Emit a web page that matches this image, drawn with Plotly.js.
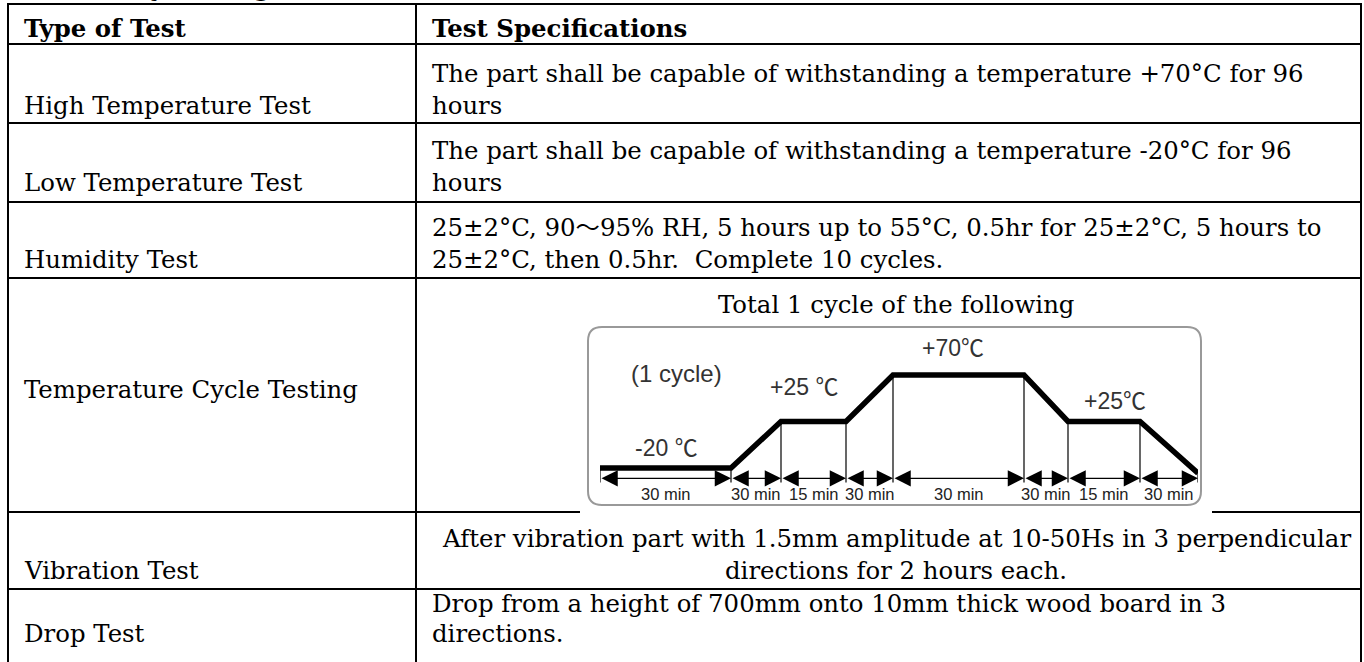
<!DOCTYPE html>
<html><head><meta charset="utf-8">
<script src="https://cdn.plot.ly/plotly-3.0.1.min.js"></script>
<style>html,body{margin:0;padding:0;background:#fff;overflow:hidden}#chart{width:1364px;height:662px}</style>
</head><body><div id="chart"></div>
<script>
// ================= DATA =================
const sectionTitle = "Reliability Testing";
const headers = ["Type of Test", "Test Specifications"];
const testTypes = ["High Temperature Test", "Low Temperature Test", "Humidity Test",
  "Temperature Cycle Testing", "Vibration Test", "Drop Test"];
const specLines = [
  ["The part shall be capable of withstanding a temperature +70°C for 96", "hours"],
  ["The part shall be capable of withstanding a temperature -20°C for 96", "hours"],
  ["25±2°C, 90～95% RH, 5 hours up to 55°C, 0.5hr for 25±2°C, 5 hours to", "25±2°C, then 0.5hr.  Complete 10 cycles."],
  ["Total 1 cycle of the following"],
  ["After vibration part with 1.5mm amplitude at 10-50Hs in 3 perpendicular", "directions for 2 hours each."],
  ["Drop from a height of 700mm onto 10mm thick wood board in 3", "directions."]
];
// temperature cycle: temperature (°C) at each breakpoint, and duration of each step
const cycleTemps = [-20, -20, 25, 25, 70, 70, 25, 25, -25];
const cycleDurations = ["30 min", "30 min", "15 min", "30 min", "30 min", "30 min", "15 min", "30 min"];
const cycleLevelLabels = ["-20 ℃", "+25 ℃", "+70℃", "+25℃"];
const cycleLevelSteps = [0, 2, 4, 6];
const cycleNote = "(1 cycle)";

// ================= LAYOUT / STYLE =================
const W = 1364, H = 662;
const colX = [8, 416, 1361];
const rowY = [4, 44, 123, 202, 278, 512, 589, 720];
const serif = "DejaVu Serif, Noto Sans CJK JP", sans = "Liberation Sans, Noto Sans CJK SC";
const fsT = 24.4;
// baselines per row (lines of spec), col1 baseline
const specBase = [[82, 114], [159, 191], [236, 268], [313], [547, 579], [612, 642]];
const typeBase = [114, 191, 268, 398, 579, 642];
const specAlign = ["left", "left", "left", "center", "center", "left"];
// schematic drawn width of each step in the diagram (not to scale in the original)
const stepDrawW = [131, 50, 65, 47, 131, 44, 72, 58];
const diagLeft = 600;
const pxAtM20 = 468, pxAt70 = 375, tMin = -50, tMax = 80;
const arrowT = -30, dropT = -34, durT = -45;
const labelOff = [[1, 20], [-10, 34], [-6, 27], [11, 20]];
const hidden = [580, 1212]; // part of row line covered by the diagram picture

// ================= BUILD =================
const X = [0];
stepDrawW.forEach(w => X.push(X[X.length - 1] + w));
const kT = (pxAtM20 - pxAt70) / 90;
const yBot = pxAtM20 + (-20 - tMin) * kT, yTop = pxAt70 - (tMax - 70) * kT;

function txt(x, base, text, o = {}) {
  const fs = o.size || fsT;
  return { xref: 'x', yref: 'y', x: x, y: base - 0.346 * fs, text: text, showarrow: false,
    xanchor: o.anchor || 'left', yanchor: 'middle',
    font: { family: o.family || serif, size: fs, color: o.color || '#000' } };
}

const annotations = [];
const shapes = [];
const lineS = { color: '#000', width: 2 };

// section heading (mostly cut off at top)
annotations.push({ xref: 'paper', yref: 'paper', x: 273 / W, y: 1 + (4 + 0.346 * 24) / H,
  text: '<b>' + sectionTitle + '</b>', showarrow: false, xanchor: 'right', yanchor: 'middle',
  font: { family: serif, size: 24, color: '#000' } });

// headers
annotations.push(txt(22, 37, '<b>' + headers[0] + '</b>'));
annotations.push(txt(430, 37, '<b>' + headers[1] + '</b>'));

// rows
testTypes.forEach((t, i) => {
  annotations.push(txt(22, typeBase[i], t));
  specLines[i].forEach((s, j) => {
    const al = specAlign[i];
    annotations.push(txt(al === 'center' ? 896 : 430, specBase[i][j], s, { anchor: al }));
  });
});

// grid lines
rowY.slice(0, 7).forEach((y, i) => {
  if (i === 5) {
    shapes.push({ type: 'line', xref: 'x', yref: 'y', x0: colX[0], x1: hidden[0], y0: y, y1: y, line: lineS });
    shapes.push({ type: 'line', xref: 'x', yref: 'y', x0: hidden[1], x1: colX[2], y0: y, y1: y, line: lineS });
  } else {
    shapes.push({ type: 'line', xref: 'x', yref: 'y', x0: colX[0], x1: colX[2], y0: y, y1: y, line: lineS });
  }
});
colX.forEach(x => shapes.push({ type: 'line', xref: 'x', yref: 'y', x0: x, x1: x, y0: rowY[0] - 1, y1: H + 5, line: lineS }));

// diagram frame (rounded)
const bx0 = 588, bx1 = 1201, by0 = 327, by1 = 505, r = 14;
shapes.push({ type: 'path', xref: 'x', yref: 'y', line: { color: '#999999', width: 2 },
  path: `M${bx0 + r},${by0} L${bx1 - r},${by0} Q${bx1},${by0} ${bx1},${by0 + r} L${bx1},${by1 - r} Q${bx1},${by1} ${bx1 - r},${by1} L${bx0 + r},${by1} Q${bx0},${by1} ${bx0},${by1 - r} L${bx0},${by0 + r} Q${bx0},${by0} ${bx0 + r},${by0} Z` });

// diagram labels
annotations.push({ xref: 'x', yref: 'y', x: 676, y: 373, text: cycleNote, showarrow: false,
  font: { family: sans, size: 24, color: '#333' } });
cycleLevelLabels.forEach((l, i) => {
  const s = cycleLevelSteps[i];
  annotations.push({ xref: 'x2', yref: 'y2', x: (X[s] + X[s + 1]) / 2, y: cycleTemps[s], text: l,
    showarrow: false, xshift: labelOff[i][0], yshift: labelOff[i][1], yanchor: 'middle',
    font: { family: sans, size: 23, color: '#333' } });
});
cycleDurations.forEach((d, i) => {
  annotations.push({ xref: 'x2', yref: 'y2', x: (X[i] + X[i + 1]) / 2, y: durT, text: d,
    showarrow: false, yanchor: 'middle', font: { family: sans, size: 16.5, color: '#222' } });
  annotations.push({ xref: 'x2', yref: 'y2', axref: 'x2', ayref: 'y2', x: X[i + 1], y: arrowT,
    ax: X[i], ay: arrowT, text: '', showarrow: true, arrowside: 'end+start',
    arrowhead: 2, startarrowhead: 2, arrowsize: 2.5, startarrowsize: 2.5, arrowwidth: 1.3,
    arrowcolor: '#000', standoff: 0, startstandoff: 0 });
});

// drop lines
const dx = [], dy = [];
X.forEach((x, i) => { dx.push(x, x, null); dy.push(cycleTemps[i], dropT, null); });

const traces = [
  { type: 'scatter', mode: 'lines', x: dx, y: dy, xaxis: 'x2', yaxis: 'y2',
    line: { color: '#000', width: 1.2 }, hoverinfo: 'skip', cliponaxis: false },
  { type: 'scatter', mode: 'lines', x: X, y: cycleTemps, xaxis: 'x2', yaxis: 'y2',
    line: { color: '#000', width: 5.5 }, hoverinfo: 'skip', cliponaxis: false }
];

const hid = { visible: false, showgrid: false, zeroline: false, fixedrange: true };
const layout = {
  width: W, height: H, margin: { l: 0, r: 0, t: 0, b: 0 },
  paper_bgcolor: '#fff', plot_bgcolor: 'rgba(0,0,0,0)', showlegend: false,
  xaxis: Object.assign({ range: [0, W], domain: [0, 1] }, hid),
  yaxis: Object.assign({ range: [H, 0], domain: [0, 1] }, hid),
  xaxis2: Object.assign({ range: [0, X[X.length - 1]], anchor: 'y2',
    domain: [diagLeft / W, (diagLeft + X[X.length - 1]) / W] }, hid),
  yaxis2: Object.assign({ range: [tMin, tMax], anchor: 'x2',
    domain: [(H - yBot) / H, (H - yTop) / H] }, hid),
  shapes: shapes, annotations: annotations
};
Plotly.newPlot('chart', traces, layout, { displayModeBar: false, staticPlot: true });
</script></body></html>
